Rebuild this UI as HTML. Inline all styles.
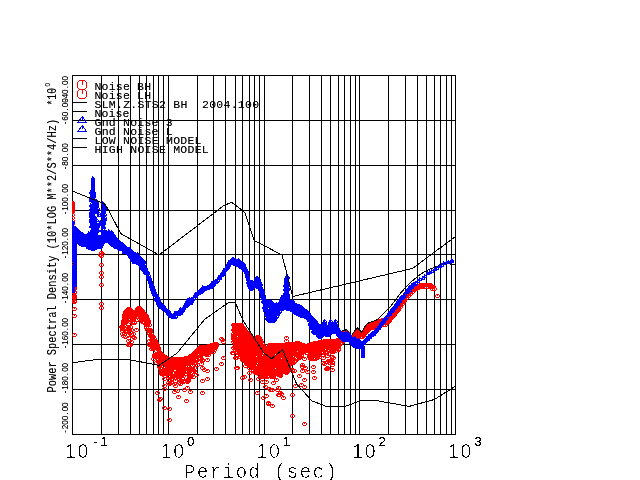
<!DOCTYPE html><html><head><meta charset="utf-8"><title>Power Spectral Density</title>
<style>html,body{margin:0;padding:0;background:#fff}svg{display:block}text{font-family:"Liberation Mono","DejaVu Sans Mono",monospace;fill:#000}.s{font-family:"Liberation Sans","DejaVu Sans",sans-serif}.th{}</style></head><body>
<svg width="640" height="480" viewBox="0 0 640 480">
<rect width="640" height="480" fill="#fff"/>
<defs>
<marker id="c" markerWidth="5" markerHeight="4" refX="2" refY="2" markerUnits="userSpaceOnUse"><path d="M1 0h3v1h-1v1h-1v-1h-1zM0 1h1v2h-1zM4 1h1v2h-1zM1 3h3v1h-3z" fill="#f00" shape-rendering="crispEdges"/></marker>
<marker id="t" markerWidth="5" markerHeight="4" refX="2" refY="2" markerUnits="userSpaceOnUse"><path d="M1 0h1v1h1v1h-1v1h-2v-1h1zM3 2h1v1h-1zM0 3h4v1h-4z" fill="#00f" shape-rendering="crispEdges"/></marker>
<clipPath id="cp"><rect x="72" y="75" width="384" height="360"/></clipPath>
<filter id="bw" filterUnits="userSpaceOnUse" x="0" y="0" width="640" height="480" color-interpolation-filters="sRGB"><feComponentTransfer><feFuncR type="discrete" tableValues="0"/><feFuncG type="discrete" tableValues="0"/><feFuncB type="discrete" tableValues="0"/><feFuncA type="discrete" tableValues="0 0 0 1"/></feComponentTransfer></filter>
<filter id="b5" filterUnits="userSpaceOnUse" x="0" y="0" width="640" height="480" color-interpolation-filters="sRGB"><feComponentTransfer><feFuncA type="discrete" tableValues="0 0 1 1 1"/></feComponentTransfer></filter>
<filter id="sf" filterUnits="userSpaceOnUse" x="0" y="0" width="640" height="480" color-interpolation-filters="sRGB"><feComponentTransfer><feFuncR type="discrete" tableValues="0"/><feFuncG type="discrete" tableValues="0"/><feFuncB type="discrete" tableValues="0"/><feFuncA type="table" tableValues="0 .42 .8 1"/></feComponentTransfer></filter>
</defs>
<path d="M72 75.5H456M72 120.5H456M72 165.5H456M72 210.5H456M72 254.5H456M72 299.5H456M72 344.5H456M72 389.5H456M72 434.5H456M72.5 75V435M101.5 75V435M118.5 75V435M130.5 75V435M139.5 75V435M146.5 75V435M153.5 75V435M158.5 75V435M163.5 75V435M168.5 75V435M197.5 75V435M213.5 75V435M225.5 75V435M235.5 75V435M242.5 75V435M249.5 75V435M254.5 75V435M259.5 75V435M264.5 75V435M292.5 75V435M309.5 75V435M321.5 75V435M330.5 75V435M338.5 75V435M344.5 75V435M350.5 75V435M355.5 75V435M359.5 75V435M388.5 75V435M405.5 75V435M417.5 75V435M426.5 75V435M434.5 75V435M440.5 75V435M446.5 75V435M451.5 75V435M455.5 75V435" stroke="#000" stroke-width="1" fill="none" shape-rendering="crispEdges"/>
<g clip-path="url(#cp)"><polyline fill="none" stroke="none" marker-start="url(#c)" marker-mid="url(#c)" marker-end="url(#c)" points="72,203 72,204 72,205 72,206 72,207 72,208 72,209 72,210 72,211 72,212 72,215 72,218 72,221 72,224 72,227 72,230 72,233 72,236 72,239 72,242 72,245 72,248 72,251 72,254 72,257 72,260 72,263 72,266 72,269 72,272 72,275 72,278 72,281 74,285 74,286 74,287 74,288 74,289 73,290 73,291 74,292 74,293 74,296 74,297 74,298 73,299 73,300 74,301 74,302 74,309 74,316 74,335 101,253 101,256 101,265 101,273 101,277 101,285 101,304 101,308 100,255 102,254 121,327 122,327 122,329 122,331 123,321 123,322 123,323 123,324 124,315 124,317 124,317 124,318 124,322 124,323 125,312 125,313 125,315 125,317 125,321 125,323 125,331 126,311 126,313 126,312 126,316 126,322 127,310 127,311 127,316 127,318 127,327 128,309 128,311 128,315 128,316 128,319 128,328 128,335 128,338 129,309 129,313 129,315 129,316 129,319 130,310 130,312 130,312 130,322 130,327 131,311 131,321 131,330 132,312 132,314 132,316 132,317 132,320 132,322 132,323 133,313 133,316 133,337 134,313 134,315 134,315 134,316 134,317 134,318 134,322 134,323 134,338 135,313 135,314 135,316 136,311 136,313 136,313 136,317 136,330 137,309 137,310 137,311 137,320 138,308 138,310 138,311 139,308 139,310 139,311 139,312 139,313 139,314 139,319 140,309 140,311 140,311 141,310 141,314 141,317 141,318 141,320 142,311 142,313 142,313 142,322 143,313 143,315 143,316 143,322 144,314 144,316 144,315 144,316 144,317 144,320 144,322 144,323 145,315 145,316 145,317 145,320 145,321 146,316 146,318 146,319 146,325 146,327 146,328 147,319 147,320 147,322 147,323 147,325 147,330 148,321 148,323 149,325 149,330 149,333 149,334 149,341 149,344 149,345 150,330 150,332 150,332 150,335 150,336 151,334 151,345 151,349 152,336 152,338 152,337 152,340 152,341 152,345 152,346 152,347 152,348 153,337 153,341 153,348 153,349 153,359 154,339 154,341 154,341 154,345 154,346 154,355 154,357 155,341 155,342 155,343 155,345 155,355 156,343 156,345 156,344 156,345 156,346 156,351 156,357 156,363 157,345 157,347 157,349 157,357 158,348 158,350 158,349 158,350 158,353 158,357 158,359 158,360 158,362 159,352 159,353 159,354 159,356 159,363 159,367 160,353 160,355 160,359 160,365 160,368 160,369 161,354 161,359 161,364 161,371 161,373 161,374 162,355 162,357 162,357 162,360 162,361 162,363 162,366 162,372 162,374 163,356 163,370 164,357 164,359 164,359 164,360 164,362 164,363 164,370 164,374 164,376 164,379 165,357 165,358 165,360 165,361 165,363 165,368 165,372 165,376 166,358 166,360 166,361 166,365 166,366 166,369 166,370 167,359 167,360 167,362 167,363 167,365 167,366 167,368 167,371 167,374 168,359 168,361 168,362 168,364 168,366 168,371 168,376 168,383 169,359 169,363 169,364 169,365 169,366 169,372 169,374 169,376 169,380 170,359 170,361 170,360 170,361 170,363 170,365 170,367 170,368 170,372 171,359 171,360 171,364 171,366 171,368 171,369 171,370 171,379 171,383 172,359 172,361 172,361 172,365 172,368 172,373 172,376 172,377 172,379 173,359 173,361 173,363 173,364 173,366 173,367 173,368 174,359 174,361 174,360 174,362 174,364 174,365 174,368 174,373 174,376 174,378 174,384 175,359 175,362 175,375 175,376 175,381 175,386 176,359 176,361 176,365 176,374 177,359 177,360 177,364 177,367 177,368 177,391 178,359 178,361 178,363 178,370 178,372 178,373 178,377 178,379 179,359 179,362 179,363 179,364 179,366 179,368 179,370 179,372 179,379 179,380 179,383 180,359 180,361 180,360 180,361 180,365 180,372 180,373 180,374 180,375 180,376 180,381 180,384 181,359 181,362 181,366 181,368 181,370 181,381 182,359 182,361 182,361 182,364 182,367 182,371 182,378 183,359 183,365 183,372 183,376 183,382 184,359 184,361 184,362 184,370 184,381 185,358 185,359 185,360 185,361 185,362 185,363 185,366 185,367 185,372 185,374 185,381 186,358 186,360 186,359 186,360 186,364 186,371 187,358 187,361 187,363 187,366 187,369 187,371 187,380 187,382 188,358 188,360 188,360 188,362 188,373 188,381 189,357 189,361 189,363 189,367 189,371 189,375 189,377 189,378 190,356 190,358 190,359 190,361 190,369 190,370 190,374 190,376 190,377 191,356 191,357 191,359 192,355 192,357 192,356 192,357 192,358 192,360 192,363 192,366 193,354 193,355 193,360 193,362 193,370 193,372 193,377 194,353 194,355 194,355 194,361 194,368 194,371 195,352 195,356 195,360 195,363 196,351 196,353 196,352 196,353 197,350 197,355 197,357 197,360 197,365 198,349 198,351 198,362 199,348 199,358 200,347 200,349 200,348 200,350 200,352 200,356 200,358 200,359 201,347 201,349 201,354 201,364 202,347 202,349 202,348 202,349 202,352 202,353 202,360 202,361 202,368 203,347 203,348 203,351 203,353 203,354 204,347 204,349 204,348 204,350 204,351 204,370 205,347 205,348 205,349 205,351 205,352 206,347 206,349 206,349 206,350 206,352 206,354 206,355 207,347 207,348 207,350 207,360 208,346 208,348 208,347 208,352 208,353 208,355 209,346 209,347 209,349 209,353 210,346 210,348 210,352 211,345 211,347 211,350 212,345 212,347 213,345 213,346 213,352 214,344 214,346 214,348 214,350 215,344 215,347 215,348 216,344 216,346 216,345 130,345 133,334 125,337 128,329 134,338 128,341 125,332 130,332 126,329 122,334 129,345 131,335 127,332 128,345 123,336 131,342 222,340 223,342 221,339 223,358 221,364 216,369 207,371 207,379 202,381 196,375 202,393 190,392 184,390 187,388 186,401 178,397 174,392 164,386 164,389 169,384 157,393 159,400 164,408 169,409 169,420 237,368 236,358 232,353 160,399 164,408 233,325 233,330 233,334 233,336 233,337 233,339 233,342 233,348 234,325 234,327 234,326 234,328 234,329 234,330 234,332 234,337 234,339 234,340 234,341 234,347 235,325 235,327 235,334 235,338 235,340 235,343 235,345 235,348 235,350 236,325 236,327 236,326 236,330 236,334 236,337 236,346 236,347 236,352 236,355 237,325 237,326 237,329 237,332 237,334 237,336 237,342 237,343 237,345 237,353 238,325 238,327 238,329 238,330 238,331 238,333 238,334 238,337 238,339 238,341 238,343 238,344 238,345 238,346 238,347 238,349 238,350 239,325 239,328 239,329 239,342 239,343 239,347 239,351 239,353 239,354 240,325 240,327 240,326 240,327 240,329 240,330 240,332 240,335 240,337 240,341 240,342 240,344 240,345 240,346 240,347 240,350 240,351 240,353 240,357 241,325 241,330 241,333 241,335 241,337 241,338 241,341 241,342 241,345 241,350 241,351 241,353 241,355 241,356 242,327 242,329 242,328 242,329 242,330 242,331 242,332 242,333 242,335 242,336 242,338 242,339 242,344 242,346 242,347 242,348 242,354 242,360 243,328 243,336 243,339 243,341 243,343 243,344 243,346 243,350 243,353 243,355 243,358 243,359 243,360 244,329 244,331 244,330 244,333 244,335 244,336 244,338 244,343 244,344 244,345 244,352 244,354 244,355 244,356 244,357 244,358 244,360 244,377 245,331 245,335 245,336 245,341 245,352 245,354 245,356 245,357 245,362 245,366 246,332 246,334 246,333 246,335 246,336 246,341 246,342 246,345 246,347 246,349 246,353 246,357 246,359 246,363 247,333 247,334 247,335 247,338 247,360 247,362 248,334 248,336 248,335 248,337 248,340 248,341 248,342 248,343 248,346 248,349 248,350 248,358 248,360 248,362 248,363 248,365 249,335 249,339 249,340 249,341 249,342 249,344 249,348 249,350 249,353 249,355 249,357 249,358 249,364 249,366 249,368 249,373 250,336 250,338 250,339 250,340 250,341 250,342 250,346 250,347 250,348 250,359 250,361 250,362 250,365 250,366 251,337 251,338 251,341 251,342 251,343 251,346 251,348 251,351 251,357 251,359 251,361 251,362 251,366 251,370 252,338 252,340 252,339 252,340 252,343 252,345 252,346 252,348 252,351 252,352 252,353 252,354 252,355 252,356 252,358 252,363 252,364 253,339 253,344 253,346 253,348 253,350 253,354 253,356 253,357 253,361 253,362 253,365 253,368 253,371 254,339 254,341 254,345 254,346 254,350 254,352 254,353 254,354 254,355 254,358 254,359 254,360 254,363 254,364 254,372 255,339 255,344 255,348 255,349 255,360 255,365 255,369 255,370 255,372 255,373 256,338 256,340 256,339 256,340 256,341 256,343 256,353 256,359 256,370 257,337 257,338 257,340 257,342 257,343 257,344 257,346 257,349 257,351 257,352 257,353 257,360 257,361 257,366 257,370 257,373 258,337 258,339 258,341 258,343 258,345 258,346 258,348 258,351 258,353 258,358 258,360 258,364 258,372 258,373 258,379 259,338 259,339 259,340 259,344 259,345 259,346 259,347 259,348 259,351 259,353 259,356 259,357 259,360 259,362 259,366 259,367 259,372 259,375 260,340 260,342 260,341 260,343 260,346 260,348 260,351 260,357 260,358 260,360 260,362 260,365 260,366 260,372 260,375 260,376 261,342 261,345 261,346 261,347 261,349 261,358 261,359 261,360 261,364 261,371 261,373 262,344 262,346 262,346 262,347 262,349 262,350 262,351 262,353 262,358 262,359 262,364 262,365 262,370 262,371 262,375 262,376 262,377 262,382 263,346 263,347 263,349 263,353 263,356 263,358 263,359 263,360 263,362 263,363 263,365 263,367 264,347 264,349 264,353 264,354 264,358 264,362 264,364 264,365 264,366 264,367 264,368 264,369 264,371 264,377 265,348 265,349 265,355 265,356 265,357 265,369 265,375 265,387 266,348 266,350 266,349 266,352 266,358 266,361 266,364 266,367 266,368 266,369 266,373 267,348 267,352 267,354 267,355 267,357 267,358 267,359 267,362 267,363 267,364 267,365 267,366 267,374 267,377 268,347 268,349 268,351 268,352 268,354 268,355 268,356 268,358 268,359 268,362 268,371 268,373 268,374 268,376 269,345 269,346 269,349 269,351 269,353 269,360 269,362 269,363 269,367 269,369 269,370 269,371 269,372 269,376 270,345 270,347 270,359 270,360 270,362 270,367 270,368 270,371 270,372 270,390 271,345 271,349 271,350 271,352 271,353 271,358 271,360 271,364 271,366 271,367 271,368 271,377 272,345 272,347 272,347 272,348 272,349 272,350 272,357 272,359 272,361 272,364 272,366 272,371 272,373 272,390 273,345 273,349 273,351 273,356 273,357 273,359 273,360 273,364 273,365 273,370 273,371 273,372 273,373 273,374 273,375 273,376 273,377 274,345 274,347 274,347 274,350 274,351 274,359 274,363 274,364 274,365 274,368 274,371 274,373 274,374 274,375 275,345 275,346 275,348 275,358 275,360 275,366 275,373 275,374 276,345 276,347 276,354 276,355 276,359 276,361 276,365 276,368 276,369 276,373 276,374 276,380 277,345 277,346 277,359 277,362 277,363 277,370 277,373 277,374 277,390 278,345 278,347 278,349 278,352 278,353 278,354 278,356 278,359 278,361 278,363 278,372 278,374 278,375 278,388 279,345 279,346 279,349 279,351 279,353 279,354 279,355 279,360 279,366 279,367 279,368 279,370 279,372 279,374 279,375 280,345 280,347 280,347 280,348 280,351 280,353 280,355 280,358 280,359 280,361 280,363 280,365 280,368 280,369 280,372 280,373 280,375 280,376 281,345 281,346 281,349 281,350 281,351 281,352 281,353 281,354 281,355 281,358 281,369 281,371 281,373 281,394 282,345 282,347 282,346 282,348 282,351 282,354 282,367 282,368 282,369 282,372 283,345 283,346 283,347 283,349 283,350 283,351 283,354 283,357 283,360 283,367 283,368 283,371 283,372 284,345 284,347 284,350 284,352 284,354 284,356 284,357 284,359 284,360 284,362 284,365 284,367 284,369 284,370 285,345 285,346 285,348 285,349 285,350 285,351 285,355 285,356 285,357 285,362 285,363 285,364 285,366 285,368 285,370 285,372 286,344 286,346 286,345 286,350 286,352 286,361 286,363 286,364 286,366 286,370 286,371 286,373 287,344 287,347 287,348 287,352 287,355 287,356 287,360 287,363 287,370 287,372 288,344 288,346 288,345 288,346 288,353 288,354 288,356 288,357 288,359 288,361 288,368 289,344 289,347 289,348 289,349 289,350 289,355 289,356 289,357 289,362 289,365 289,369 290,344 290,346 290,345 290,347 290,349 290,350 290,351 290,352 290,354 290,355 290,356 290,360 290,361 290,363 290,364 291,344 291,346 291,350 291,351 291,352 291,353 291,358 291,359 292,344 292,346 292,350 292,352 292,354 292,356 292,359 292,362 292,370 292,371 293,344 293,347 293,348 293,349 293,363 294,344 294,346 294,352 294,354 294,362 294,371 295,344 295,349 295,350 295,361 296,343 296,345 296,345 296,348 296,352 296,354 296,355 296,358 297,343 297,345 297,347 297,349 297,351 297,355 297,356 297,359 298,343 298,345 298,347 298,354 299,344 299,345 299,346 299,348 299,350 299,355 299,356 299,357 299,358 299,376 300,344 300,346 301,345 301,346 301,348 301,349 301,351 301,353 301,355 301,356 301,385 302,345 302,347 302,350 302,351 302,353 302,365 302,367 302,371 303,345 303,347 304,346 304,348 304,347 304,359 305,346 305,347 305,368 306,346 306,348 306,350 306,351 306,353 307,346 307,348 307,350 307,353 307,372 308,345 308,347 308,349 308,350 309,345 309,349 309,350 309,351 309,352 309,356 309,357 310,345 310,347 310,346 310,348 310,350 310,351 310,352 310,357 310,358 310,359 311,344 311,353 311,354 311,357 311,359 312,344 312,346 312,346 312,347 312,351 312,352 312,353 312,355 312,356 312,357 313,344 313,346 313,349 313,352 313,354 313,358 313,359 313,367 314,343 314,345 314,348 314,355 314,358 315,343 315,346 315,347 315,350 315,356 315,358 315,359 316,343 316,345 316,344 316,345 316,347 316,350 316,352 316,353 316,354 316,357 317,343 317,346 317,348 317,349 317,353 317,354 317,355 317,358 318,343 318,345 318,346 318,347 318,349 318,350 318,354 318,355 318,356 319,342 319,343 319,344 319,347 319,351 319,352 319,353 319,357 320,342 320,344 320,346 320,348 320,354 321,342 321,343 321,344 321,345 321,346 321,349 321,350 322,342 322,344 322,344 322,346 322,348 322,349 322,355 323,342 323,343 323,345 323,346 323,347 323,348 323,353 323,358 324,341 324,343 324,342 324,343 324,347 325,341 325,342 325,347 325,352 325,353 326,341 326,343 326,346 326,352 327,341 327,342 327,344 327,345 327,347 327,348 328,341 328,343 328,345 328,347 328,350 329,341 329,342 329,348 329,351 330,341 330,343 330,343 330,347 330,348 330,349 331,341 331,360 332,341 332,343 332,345 332,347 332,348 332,350 332,351 332,352 332,365 333,341 333,344 333,346 333,349 333,352 334,341 334,343 334,343 334,344 334,345 335,341 335,342 335,343 335,345 335,346 335,347 335,349 335,351 336,341 336,343 336,342 336,343 336,345 336,346 336,347 336,349 337,340 337,341 337,344 338,340 338,342 338,341 338,345 338,346 338,347 338,349 338,350 339,340 340,335 340,337 340,336 340,341 340,344 341,334 341,336 341,337 341,339 341,340 341,343 342,334 342,336 342,336 342,337 342,338 342,341 343,333 343,334 343,335 343,341 344,332 344,334 344,334 344,335 344,336 344,340 345,332 345,333 345,334 345,340 346,332 346,334 346,334 346,336 346,338 347,333 347,334 348,335 348,337 348,338 349,336 349,337 349,340 350,337 350,339 350,341 351,337 351,342 352,337 352,339 352,338 352,341 353,337 353,339 354,335 354,337 354,336 354,337 354,338 355,334 356,332 356,334 356,334 356,336 356,337 357,331 357,333 357,334 357,336 358,331 358,333 358,333 358,334 359,332 359,336 360,333 360,335 360,335 360,337 361,333 361,334 361,335 362,333 362,335 362,334 362,337 363,333 363,335 363,336 364,332 364,334 364,334 365,330 365,331 365,332 365,333 366,328 366,330 366,329 366,330 366,331 366,332 367,327 367,329 367,330 367,331 368,326 368,328 368,328 368,329 368,330 369,325 370,324 370,326 370,325 370,328 371,324 371,325 371,327 372,324 372,326 372,326 372,327 372,328 373,324 373,325 373,328 374,323 374,325 374,324 374,325 375,323 375,325 376,323 376,325 376,324 377,323 377,324 377,326 378,322 378,324 378,323 378,324 378,326 378,327 379,321 380,321 380,323 380,322 380,324 380,325 381,321 381,322 381,325 382,320 382,322 382,323 383,320 383,325 384,320 384,322 384,321 384,323 385,320 385,321 385,323 385,325 386,320 386,322 387,320 387,322 388,320 388,322 388,321 389,318 389,321 390,316 390,318 390,319 391,316 391,318 392,315 392,317 392,316 393,314 393,315 394,313 394,315 395,311 395,312 396,310 396,312 397,309 397,310 398,308 398,310 399,306 400,305 400,307 401,303 402,302 402,304 403,300 403,301 404,299 404,301 405,297 406,296 406,298 407,295 408,294 408,296 409,293 410,292 410,294 411,291 412,290 412,292 413,289 414,288 414,290 415,288 416,287 416,289 417,287 418,286 418,288 418,287 419,286 419,287 420,285 420,287 421,285 421,287 422,285 422,287 423,285 424,285 424,287 425,285 426,285 426,287 426,287 427,285 428,285 428,287 429,285 429,286 430,285 430,287 431,286 432,287 432,289 433,287 286,338 286,341 266,382 273,383 269,389 257,393 263,398 266,396 268,403 280,393 278,395 283,398 292,395 295,386 304,387 304,380 313,372 314,378 236,368 242,378 250,380 233,353 235,358 263,398 268,404 272,406 257,393 279,395 437,296 434,289 292,416 304,424 332,370 332,357 327,362 328,354 327,369 327,368 332,362 332,370 323,363 333,358 327,356 332,363 329,363 332,362 328,361 326,369 329,361 324,364"/></g>
<polyline fill="none" stroke="#000" stroke-width="1" shape-rendering="crispEdges" points="336.7,335.0 339.0,333.4 342.6,330.6 346.6,329.8 351.3,335.8 354.5,331.0 357.6,327.8 361.6,332.2 365.6,325.5 368.7,322.7 376.7,320.0 380.0,317.0 383.3,314.0 387.0,310.0 391.7,305.0 396.0,299.0 400.0,294.0 401.7,291.7 410.0,283.0 418.3,275.8 424.0,272.0 430.0,269.0 437.0,266.5 444.0,263.5 450.0,262.5 450.0,264.5 455.5,264.5"/>
<g clip-path="url(#cp)"><polyline fill="none" stroke="none" marker-start="url(#t)" marker-mid="url(#t)" marker-end="url(#t)" points="72,221 73,222 72,223 72,224 72,225 73,226 72,227 72,228 75,229 75,229 74,230 75,231 75,231 74,232 74,233 75,233 74,234 75,235 75,235 75,236 74,237 75,237 74,238 74,239 75,239 75,240 74,241 75,241 75,242 74,243 75,243 74,244 74,245 75,245 74,246 75,247 75,247 74,248 74,249 75,249 74,250 74,251 75,251 74,252 74,253 75,253 74,254 74,255 75,255 75,256 74,257 75,257 74,258 74,259 75,259 74,260 75,261 75,261 75,262 75,263 75,263 75,264 74,265 75,265 75,266 74,267 75,267 74,268 74,269 75,269 74,270 74,271 75,271 75,272 74,273 75,273 74,274 74,275 75,275 74,276 75,277 75,277 74,278 75,279 75,279 74,280 75,281 75,281 74,282 74,283 75,283 75,284 75,285 75,285 73,286 72,287 73,288 73,289 72,290 73,291 76,228 76,242 76,230 76,233 76,234 76,236 76,239 76,239 77,229 77,241 77,230 77,234 77,234 77,238 77,238 77,240 78,231 78,242 78,232 78,235 78,235 78,239 78,239 79,231 79,242 79,232 79,235 79,236 79,239 79,241 80,233 80,243 80,236 80,237 80,239 80,240 80,242 81,233 81,244 81,235 81,236 81,240 81,241 81,242 82,234 82,244 82,236 82,238 82,239 82,242 83,234 83,245 83,236 83,237 83,241 83,243 83,244 84,237 84,245 84,239 84,240 84,243 84,245 85,237 85,245 85,238 85,241 85,241 85,244 86,236 86,245 86,239 86,239 86,243 86,244 87,236 87,245 87,239 87,239 87,241 87,243 88,236 88,247 88,239 88,239 88,242 88,245 88,245 89,237 89,247 89,239 89,241 89,243 89,244 89,246 90,238 90,248 90,240 90,240 90,242 90,246 90,248 91,239 91,247 91,242 91,243 91,244 91,247 92,240 92,247 92,240 92,243 92,246 92,246 93,239 93,249 93,240 93,244 93,245 93,248 94,239 94,248 94,240 94,242 94,244 94,247 95,238 95,248 95,240 95,243 95,243 95,245 96,239 96,247 96,240 96,243 96,243 96,245 97,239 97,247 97,240 97,243 97,245 97,247 98,238 98,247 98,240 98,243 98,245 98,247 99,238 99,247 99,241 99,243 99,243 99,247 100,237 100,247 100,238 100,241 100,244 100,245 101,238 101,246 101,239 101,241 101,244 102,239 102,244 102,240 102,243 103,238 103,242 103,239 103,241 104,236 104,241 104,238 104,238 105,233 105,241 105,234 105,236 105,239 106,232 106,240 106,234 106,235 106,239 106,241 107,232 107,241 107,233 107,236 107,239 107,241 108,233 108,241 108,235 108,237 108,239 108,241 109,231 109,241 109,232 109,235 109,236 109,238 110,232 110,242 110,233 110,236 110,238 110,239 110,241 111,233 111,243 111,233 111,235 111,238 111,241 111,241 112,232 112,244 112,234 112,236 112,237 112,239 112,241 113,234 113,245 113,237 113,238 113,239 113,242 113,244 114,235 114,245 114,236 114,238 114,241 114,242 115,237 115,246 115,238 115,242 115,243 115,244 116,238 116,247 116,241 116,243 116,244 116,245 117,240 117,246 117,242 117,242 117,244 118,240 118,247 118,242 118,243 118,246 119,242 119,248 119,243 119,245 119,248 120,243 120,249 120,244 120,246 121,243 121,249 121,244 121,247 122,244 122,249 122,247 122,247 123,244 123,249 123,245 123,249 124,245 124,252 124,247 124,250 124,252 125,246 125,251 125,249 125,251 126,248 126,252 126,249 126,250 127,248 127,251 127,250 128,249 128,253 128,250 129,249 129,254 129,250 129,254 130,249 130,256 130,250 130,252 130,254 131,250 131,257 131,253 131,254 131,257 132,251 132,260 132,254 132,254 132,257 132,259 133,254 133,260 133,256 133,258 133,258 134,254 134,262 134,256 134,258 134,261 135,254 135,262 135,257 135,257 135,261 136,254 136,262 136,256 136,259 136,259 137,255 137,262 137,255 137,259 137,261 138,254 138,263 138,256 138,259 138,261 138,261 139,257 139,263 139,257 139,260 139,262 140,257 140,264 140,260 140,261 140,264 141,258 141,266 141,259 141,263 141,264 142,259 142,268 142,259 142,261 142,265 142,265 143,260 143,269 143,260 143,263 143,265 143,268 144,261 144,270 144,262 144,265 144,266 144,270 145,264 145,272 145,267 145,268 145,270 146,268 146,273 146,270 146,273 147,271 147,273 147,271 148,272 148,277 148,273 148,276 149,275 149,279 149,277 149,278 150,278 150,282 150,280 150,281 151,281 151,286 151,284 151,286 152,284 152,289 152,286 152,288 153,286 153,292 153,289 153,291 154,289 154,294 154,291 154,292 155,292 155,295 155,293 156,294 156,299 156,295 156,298 157,295 157,300 157,298 157,300 158,297 158,303 158,299 158,301 159,299 159,305 159,300 159,303 160,302 160,306 160,305 161,303 161,307 161,305 162,304 162,307 162,305 163,305 163,307 163,308 164,306 164,309 164,309 165,308 165,309 166,309 166,310 167,310 167,311 168,311 168,313 169,311 169,314 169,312 170,313 170,315 170,313 171,314 171,316 172,316 172,315 173,316 173,317 174,315 174,317 175,313 175,317 175,314 176,313 176,316 176,316 177,313 177,314 178,313 178,314 179,312 179,314 180,310 180,313 180,313 181,309 181,313 181,312 182,310 182,311 182,311 183,309 183,310 184,308 184,307 185,306 185,306 186,303 186,305 186,306 187,301 187,305 187,303 187,305 188,300 188,304 188,301 189,300 189,303 189,301 190,299 190,303 190,300 190,303 191,300 191,303 191,301 192,299 192,301 192,300 193,299 193,299 194,298 194,298 195,296 195,295 196,294 196,296 197,294 197,294 198,292 198,293 199,293 199,292 200,291 200,292 201,290 201,292 202,289 202,291 203,287 203,290 203,288 204,288 204,289 205,288 205,289 206,288 206,288 207,288 207,288 208,287 208,288 209,287 209,287 210,286 210,287 211,285 211,287 211,286 212,283 212,286 212,284 213,283 213,285 214,283 214,284 215,282 215,282 216,282 216,281 217,281 217,281 218,280 218,280 219,278 219,277 220,278 220,277 221,275 221,275 222,274 222,275 223,272 223,274 224,270 224,273 224,272 225,270 225,270 226,268 226,269 227,267 227,268 228,264 228,267 228,265 229,262 229,265 229,263 230,262 230,263 231,261 231,263 232,260 232,263 232,261 233,259 233,262 233,261 234,259 234,263 234,262 235,260 235,264 235,262 236,260 236,264 236,262 237,261 237,264 237,263 238,261 238,265 238,263 239,260 239,265 239,261 239,263 240,262 240,266 240,265 241,262 241,267 241,263 241,265 242,264 242,267 242,264 242,267 243,263 243,268 243,266 243,267 244,264 244,270 244,266 244,268 245,267 245,270 245,269 246,269 246,272 246,270 247,271 247,276 247,273 247,275 248,276 248,282 248,278 248,279 248,282 249,280 249,285 249,282 249,284 250,282 250,287 250,283 250,287 251,282 251,289 251,283 251,287 251,289 252,282 252,288 252,285 252,285 252,287 253,282 253,287 253,285 253,285 254,283 254,286 254,283 255,281 255,286 255,282 255,286 256,279 256,286 256,281 256,283 256,286 257,278 257,286 257,279 257,281 257,284 258,278 258,287 258,280 258,282 258,284 258,285 259,279 259,287 259,280 259,282 259,284 259,287 260,282 260,289 260,283 260,285 260,287 261,284 261,291 261,287 261,287 261,291 262,289 262,296 262,290 262,293 262,295 263,291 263,301 263,293 263,296 263,298 263,298 264,295 264,307 264,297 264,300 264,302 265,300 265,310 265,301 265,303 265,306 265,307 265,308 266,301 266,314 266,306 266,310 266,310 267,301 267,318 267,303 267,306 267,314 267,315 268,302 268,319 268,305 268,308 268,308 269,302 269,320 269,304 269,304 269,312 269,315 269,318 270,302 270,321 270,305 270,312 270,314 270,318 271,301 271,321 271,306 271,310 271,316 271,319 272,302 272,321 272,305 272,311 272,312 272,315 272,317 272,320 273,303 273,321 273,304 273,308 273,309 273,314 273,315 273,319 274,305 274,320 274,317 274,319 275,305 275,319 275,308 275,313 275,316 275,317 276,305 276,317 276,312 277,304 277,316 277,307 277,309 277,313 278,305 278,314 278,307 278,308 278,311 278,312 279,304 279,312 279,307 279,307 279,309 280,303 280,311 280,306 280,306 280,309 281,300 281,309 281,303 281,304 281,307 281,309 282,297 282,309 282,299 282,300 282,305 282,308 283,297 283,308 283,301 283,303 284,295 284,308 284,297 284,300 284,302 284,307 285,295 285,308 285,295 285,299 285,305 286,295 286,308 286,300 286,308 287,298 287,308 287,298 287,301 287,304 287,305 287,308 288,299 288,309 288,300 288,303 288,304 288,308 289,301 289,309 289,302 289,305 289,306 290,303 290,309 290,305 290,306 290,307 291,302 291,308 291,304 291,306 291,307 292,302 292,310 292,305 292,306 292,308 293,301 293,310 293,303 293,305 293,306 293,309 294,303 294,312 294,306 294,308 294,309 294,310 295,304 295,312 295,307 295,308 295,310 296,305 296,312 296,307 296,307 296,310 296,313 297,305 297,313 297,306 297,309 297,310 297,313 298,306 298,314 298,307 298,309 298,311 298,312 299,306 299,314 299,309 299,311 299,312 299,313 300,306 300,314 300,309 300,311 300,312 300,315 301,307 301,314 301,308 301,311 301,312 302,307 302,316 302,309 302,312 302,312 302,314 303,309 303,316 303,311 303,314 303,314 304,310 304,316 304,312 304,312 304,315 305,310 305,316 305,312 305,315 306,311 306,317 306,312 306,315 307,311 307,316 307,312 307,314 308,312 308,318 308,314 308,317 308,317 309,313 309,320 309,316 309,318 309,319 310,315 310,324 310,316 310,318 310,320 310,323 311,317 311,327 311,317 311,321 311,323 311,325 311,326 312,317 312,328 312,320 312,322 312,322 312,326 312,326 313,318 313,331 313,320 313,322 313,327 313,328 314,319 314,332 314,322 314,328 314,332 315,321 315,333 315,323 315,324 315,331 316,321 316,333 316,323 316,325 316,330 317,323 317,333 317,324 317,327 317,328 317,332 317,332 318,325 318,335 318,328 318,329 318,331 318,334 319,326 319,336 319,327 319,329 319,331 319,334 320,326 320,337 320,329 320,330 320,333 320,335 320,335 321,326 321,336 321,328 321,330 321,333 321,333 322,326 322,334 322,328 322,331 322,331 322,335 323,326 323,334 323,327 323,329 323,333 324,326 324,334 324,328 324,330 324,330 324,333 325,323 325,334 325,325 325,327 325,329 325,331 325,333 326,325 326,334 326,328 326,329 326,330 326,333 327,327 327,335 327,330 327,330 327,332 328,327 328,335 328,329 328,330 328,333 329,327 329,334 329,329 329,329 329,332 330,323 330,333 330,324 330,326 330,330 330,331 331,323 331,332 331,326 331,326 331,328 331,330 332,325 332,331 332,326 332,329 332,331 333,328 333,332 333,330 334,328 334,332 334,330 335,324 335,332 335,325 335,327 335,329 336,324 336,332 336,325 336,327 336,330 337,328 337,332 337,328 337,330 338,328 338,334 338,330 338,331 339,330 339,335 339,332 339,334 340,332 340,336 340,332 340,336 341,332 341,337 341,335 341,335 342,333 342,338 342,335 342,337 343,334 343,339 343,336 343,337 344,334 344,340 344,336 344,338 345,334 345,339 345,337 345,339 346,333 346,340 346,334 346,336 346,338 347,334 347,340 347,336 347,338 347,338 348,333 348,340 348,335 348,337 348,340 349,334 349,339 349,337 349,337 350,335 350,340 350,336 350,338 351,337 351,342 351,339 351,340 352,338 352,343 352,340 352,341 353,339 353,344 353,340 353,344 354,339 354,345 354,341 354,343 355,338 355,346 355,341 355,342 355,343 356,339 356,346 356,341 356,342 356,345 357,341 357,345 357,343 357,344 358,341 358,345 358,342 358,343 359,340 359,344 359,341 360,341 360,344 360,344 361,343 361,343 325,321 324,322 324,323 325,324 325,325 324,326 325,327 325,328 324,329 325,330 331,321 330,322 331,323 331,324 330,325 331,326 331,327 331,328 331,329 330,330 336,321 335,322 335,323 335,324 336,325 335,326 336,327 335,328 335,329 336,330 93,178 93,179 93,180 93,181 93,182 93,183 93,184 93,185 93,186 93,187 93,188 93,189 93,190 93,191 91,192 94,192 92,193 94,193 92,194 94,194 92,195 93,195 93,196 94,196 91,197 93,197 92,198 93,198 91,199 93,199 91,200 94,200 96,201 97,201 93,201 95,202 96,202 96,202 95,203 97,203 95,203 93,204 97,204 93,204 91,205 97,205 93,205 96,206 97,206 96,206 95,207 93,207 94,207 93,208 96,208 93,208 94,209 96,209 91,209 96,210 94,210 95,210 95,211 92,211 97,211 95,212 93,212 91,212 92,213 91,213 93,213 91,214 91,214 91,214 91,215 92,215 91,215 93,216 91,216 92,216 95,217 93,217 95,217 92,218 95,218 92,218 94,219 92,219 91,219 97,220 92,220 91,220 95,221 91,221 91,221 92,222 92,222 93,222 93,223 93,223 96,223 93,224 97,224 95,224 97,225 94,225 93,225 95,226 97,226 91,226 95,227 96,227 94,227 97,227 104,227 93,228 97,228 94,228 97,228 97,228 93,229 93,229 97,229 103,229 97,229 95,230 95,230 94,230 102,230 98,230 97,231 96,231 97,231 96,231 95,231 92,232 93,232 91,232 103,232 95,232 94,233 96,233 96,233 103,233 89,233 91,234 94,234 95,234 104,234 94,234 91,235 92,235 91,235 102,235 97,235 92,236 96,236 93,236 98,236 89,236 96,237 96,237 95,237 104,237 103,237 103,203 104,204 104,205 104,206 104,207 105,208 98,208 103,209 104,210 103,211 104,212 103,213 99,213 105,214 104,215 99,215 103,216 105,217 104,218 105,219 104,220 103,221 104,222 101,222 104,223 100,223 103,224 100,224 103,225 103,226 98,226 104,227 287,276 288,277 286,278 286,279 286,280 286,281 288,282 288,283 287,283 288,284 287,284 288,285 285,285 287,286 287,286 287,287 286,287 288,288 288,288 288,289 285,289 287,290 286,290 287,291 287,291 286,292 287,292 286,293 287,293 286,294 288,294 286,295 285,295 288,296 285,296 288,297 288,297 286,298 285,298 286,299 287,299 363,346 363,347 363,348 363,349 363,350 363,351 363,352 363,353 363,354 363,355 363,356 358,347 359,347 359,347 360,346 360,345 361,344 362,344 362,344 363,343 364,343 364,342 364,342 365,341 366,340 367,339 367,338 368,339 368,338 369,336 370,337 370,336 371,335 372,335 372,335 372,334 373,333 374,333 374,334 375,332 375,332 376,331 376,330 377,330 378,328 379,327 379,328 380,326 380,325 381,324 382,323 383,322 383,321 384,321 384,320 385,319 386,318 387,317 388,315 388,315 389,314 390,314 390,313 391,311 392,311 392,310 392,310 393,310 393,309 394,308 395,306 395,307 396,306 396,305 397,303 398,304 398,302 399,301 400,301 400,299 400,300 401,298 402,298 402,297 402,297 403,297 403,297 404,296 404,295 405,294 406,292 407,291 407,292 408,290 408,291 408,290 409,288 410,290 410,288 410,287 411,287 412,287 412,285 413,285 414,284 415,284 416,283 418,281 420,279 423,278 425,276 428,273 430,272 432,271 435,269 437,268 440,266 442,265 444,263 447,262 449,262 452,261 452,260"/></g>
<polyline fill="none" stroke="#000" stroke-width="1" shape-rendering="crispEdges" points="72.5,362.7 94.6,359.8 130.1,359.8 159.0,365.4 177.2,353.0 204.7,319.3 228.9,302.3 235.2,302.3 242.8,320.1 264.0,353.2 271.6,358.8 282.5,349.5 296.6,384.0 311.8,400.8 326.5,406.5 344.9,406.5 360.2,400.8 377.7,400.8 409.1,406.4 434.3,399.5 455.5,386.2"/>
<polyline fill="none" stroke="#000" stroke-width="1" shape-rendering="crispEdges" points="72.5,191.1 105.3,204.3 120.9,233.7 159.0,255.0 223.8,205.6 231.7,202.3 244.8,212.4 254.2,240.4 282.0,255.0 292.8,296.5 412.4,268.5 455.5,236.5"/>
<g fill="none" stroke-width="1" shape-rendering="crispEdges">
<path d="M79.5 80.5h5l2 2v5l-2 2h-5l-2 -2v-5zM82.5 80.5v4.5" stroke="#f00"/>
<path d="M79.5 89.5h5l2 2v5l-2 2h-5l-2 -2v-5zM82.5 89.5v4.5" stroke="#f00"/>
<path d="M72 102.5H87" stroke="#000"/>
<path d="M72 111.5H87" stroke="#000"/>
<path d="M72 138.5H87" stroke="#000"/>
<path d="M72 147.5H87" stroke="#000"/>
<path d="M77.5 122.5h9l-4 -6zM82.5 116.5v3.5" stroke="#00f"/>
<path d="M77.5 131.5h9l-4 -6zM82.5 125.5v3.5" stroke="#00f"/>
</g>
<g id="txt" filter="url(#sf)">
<text x="94.5" y="89.5" font-size="11.5" textLength="56.6" lengthAdjust="spacing" xml:space="preserve">Noise BH</text>
<text x="94.5" y="98.5" font-size="11.5" textLength="56.6" lengthAdjust="spacing" xml:space="preserve">Noise LH</text>
<text x="94.5" y="107.5" font-size="11.5" textLength="164.6" lengthAdjust="spacing" xml:space="preserve">SLM.Z.STS2 BH  2004.100</text>
<text x="94.5" y="116.5" font-size="11.5" textLength="35.0" lengthAdjust="spacing" xml:space="preserve">Noise</text>
<text x="94.5" y="125.5" font-size="11.5" textLength="78.2" lengthAdjust="spacing" xml:space="preserve">Gnd Noise 3</text>
<text x="94.5" y="134.5" font-size="11.5" textLength="78.2" lengthAdjust="spacing" xml:space="preserve">Gnd Noise L</text>
<text x="94.5" y="143.5" font-size="11.5" textLength="107.0" lengthAdjust="spacing" xml:space="preserve">LOW NOISE MODEL</text>
<text x="94.5" y="152.5" font-size="11.5" textLength="114.2" lengthAdjust="spacing" xml:space="preserve">HIGH NOISE MODEL</text>
</g><g>
<text class="s" filter="url(#bw)" x="70.5 83.0" y="457.8" font-size="19.5" text-anchor="middle">10</text>
<text class="s" filter="url(#b5)" x="95.5 104.0" y="446.2" font-size="13.5" text-anchor="middle">-1</text>
<text class="s" filter="url(#bw)" x="166.2 178.8" y="457.8" font-size="19.5" text-anchor="middle">10</text>
<text class="s" filter="url(#b5)" x="190.8" y="446.2" font-size="13.5" text-anchor="middle">0</text>
<text class="s" filter="url(#bw)" x="262.0 274.5" y="457.8" font-size="19.5" text-anchor="middle">10</text>
<text class="s" filter="url(#b5)" x="286.5" y="446.2" font-size="13.5" text-anchor="middle">1</text>
<text class="s" filter="url(#bw)" x="357.8 370.2" y="457.8" font-size="19.5" text-anchor="middle">10</text>
<text class="s" filter="url(#b5)" x="382.2" y="446.2" font-size="13.5" text-anchor="middle">2</text>
<text class="s" filter="url(#bw)" x="453.5 466.0" y="457.8" font-size="19.5" text-anchor="middle">10</text>
<text class="s" filter="url(#b5)" x="478.0" y="446.2" font-size="13.5" text-anchor="middle">3</text>
<text filter="url(#bw)" x="184" y="478" font-size="19.5" textLength="153" lengthAdjust="spacing">Period (sec)</text>
</g><g filter="url(#sf)">
<text class="s" transform="translate(67.6 433.5) rotate(-90)" font-size="8.2" text-anchor="middle" x="2.20 6.65 11.10 15.55 20.00 24.45 28.90">-200.00</text>
<text class="s" transform="translate(67.6 394.0) rotate(-90)" font-size="8.2" text-anchor="middle" x="2.20 6.65 11.10 15.55 20.00 24.45 28.90">-180.00</text>
<text class="s" transform="translate(67.6 349.0) rotate(-90)" font-size="8.2" text-anchor="middle" x="2.20 6.65 11.10 15.55 20.00 24.45 28.90">-160.00</text>
<text class="s" transform="translate(67.6 304.0) rotate(-90)" font-size="8.2" text-anchor="middle" x="2.20 6.65 11.10 15.55 20.00 24.45 28.90">-140.00</text>
<text class="s" transform="translate(67.6 259.0) rotate(-90)" font-size="8.2" text-anchor="middle" x="2.20 6.65 11.10 15.55 20.00 24.45 28.90">-120.00</text>
<text class="s" transform="translate(67.6 215.0) rotate(-90)" font-size="8.2" text-anchor="middle" x="2.20 6.65 11.10 15.55 20.00 24.45 28.90">-100.00</text>
<text class="s" transform="translate(67.6 170.0) rotate(-90)" font-size="8.2" text-anchor="middle" x="2.20 6.65 11.10 15.55 20.00 24.45">-80.00</text>
<text class="s" transform="translate(67.6 125.0) rotate(-90)" font-size="8.2" text-anchor="middle" x="2.20 6.65 11.10 15.55 20.00 24.45">-60.00</text>
<text class="s" transform="translate(67.6 102.7) rotate(-90)" font-size="8.2" text-anchor="middle" x="2.20 6.65 11.10 15.55 20.00 24.45">-40.00</text>
<text transform="translate(55.5 392.5) rotate(-90)" font-size="12" textLength="273.7" lengthAdjust="spacingAndGlyphs">Power Spectral Density (10*LOG M**2/S**4/Hz)</text>
<text transform="translate(55.5 105.5) rotate(-90)" font-size="12" textLength="17.5" lengthAdjust="spacingAndGlyphs">*10</text>
<text class="s" transform="translate(49.5 86.5) rotate(-90)" font-size="6.5" >0</text>
</g>
</svg></body></html>
